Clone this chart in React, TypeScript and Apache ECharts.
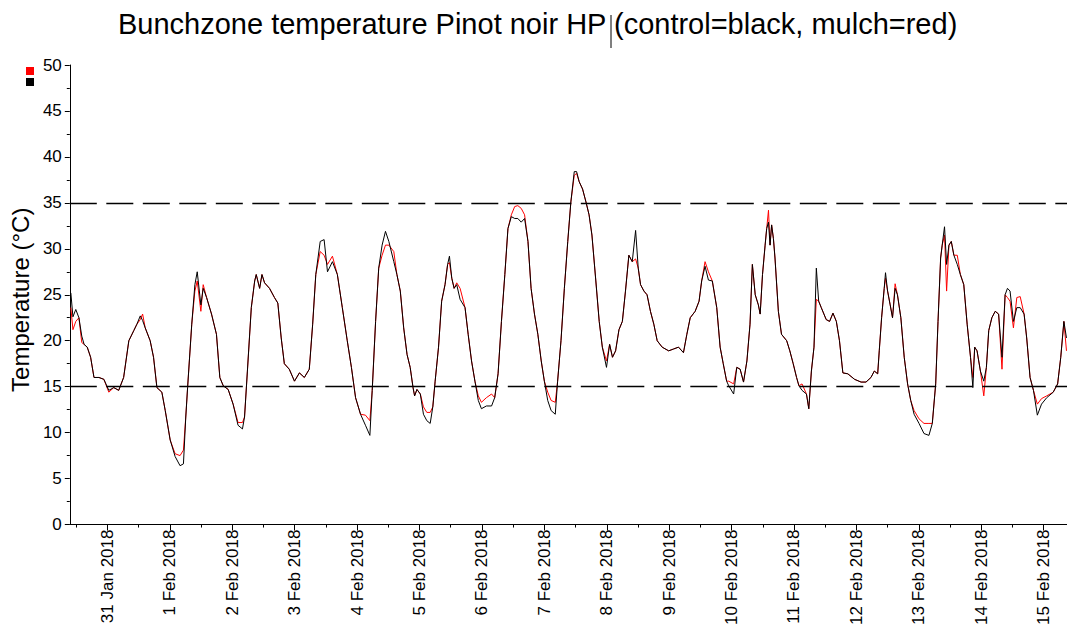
import React, { useEffect, useRef } from "react";
import * as echarts from "echarts";

// hours since 31 Jan 2018 00:00
const hours = [
  -14.1, -13.3, -12.2, -11.0, -9.9, -9.0, -7.8, -6.5, -5.2, -3.3, -1.4, 0.5, 2.4, 4.3, 6.2, 8.2, 10.1, 11.3, 12.6, 13.5,
  14.5, 16.4, 17.7, 19.0, 20.9, 22.2, 24.1, 26.0, 27.9, 29.2, 30.1, 30.8, 32.4, 33.6, 34.5, 35.9, 36.8, 38.1, 40.0, 41.9,
  43.2, 44.5, 46.4, 48.3, 50.2, 51.9, 52.7, 53.8, 55.3, 56.6, 57.2, 58.5, 59.4, 60.4, 62.3, 64.2, 65.5, 66.8, 68.0, 69.9,
  71.9, 73.8, 75.7, 77.6, 78.9, 80.1, 81.8, 83.3, 84.6, 86.5, 88.4, 90.3, 92.2, 93.8, 95.4, 97.3, 99.2, 100.9, 101.8, 103.1,
  104.3, 105.6, 106.9, 108.2, 110.1, 111.3, 112.6, 113.9, 115.2, 116.4, 117.5, 118.1, 119.0, 120.3, 121.5, 122.8, 124.1, 125.1, 126.0, 127.3,
  128.5, 129.8, 130.8, 131.5, 132.4, 133.3, 134.3, 135.6, 137.5, 138.7, 140.0, 141.3, 142.6, 143.8, 145.7, 147.7, 148.9, 150.2, 151.5, 152.8,
  154.0, 155.3, 156.6, 157.8, 159.1, 160.4, 161.7, 162.9, 164.2, 165.5, 166.8, 168.0, 169.3, 170.6, 172.2, 173.1, 174.4, 175.7, 177.0, 178.2,
  179.5, 180.4, 181.4, 182.7, 184.0, 185.2, 186.3, 187.8, 189.1, 190.3, 191.9, 193.1, 194.2, 195.4, 196.7, 198.0, 199.2, 200.5, 201.8, 203.1,
  204.1, 205.0, 206.3, 207.5, 208.8, 210.1, 211.4, 213.3, 215.8, 217.7, 219.6, 221.5, 222.8, 224.1, 226.0, 227.5, 228.5, 229.8, 231.1, 232.6,
  234.3, 235.6, 236.8, 238.1, 238.9, 240.8, 242.0, 243.3, 244.6, 245.9, 247.1, 248.0, 249.1, 250.3, 251.0, 251.9, 252.9, 253.5, 254.2, 254.8,
  255.4, 256.1, 256.7, 258.0, 259.2, 261.2, 262.4, 263.7, 265.0, 265.9, 267.1, 268.8, 269.7, 270.7, 271.7, 272.6, 273.5, 274.5, 276.4, 277.7,
  279.0, 280.3, 281.5, 282.8, 284.7, 287.3, 289.8, 291.7, 293.6, 294.9, 296.2, 296.8, 297.7, 298.7, 299.2, 300.0, 301.0, 301.9, 302.9, 303.8,
  305.1, 306.4, 307.7, 308.9, 310.2, 312.1, 314.0, 315.9, 317.2, 318.5, 319.4, 320.4, 321.0, 321.9, 322.7, 323.6, 324.5, 325.5, 326.8, 328.0,
  329.3, 330.6, 331.9, 332.8, 333.5, 334.4, 335.7, 337.0, 338.0, 338.9, 340.1, 341.4, 342.7, 344.0, 345.2, 346.1, 347.1, 348.4, 349.7, 351.0,
  352.5, 353.5, 354.8, 356.1, 357.6, 359.2, 361.2, 363.7, 365.4, 366.6, 367.8, 368.8,
];

const control = [
  25.2, 22.6, 23.4, 22.5, 20.5, 19.6, 19.3, 18.2, 16.0, 16.0, 15.8, 14.6, 14.9, 14.6, 16.0, 20.0, 21.1, 21.8, 22.7, 22.2,
  21.4, 20.0, 18.2, 14.9, 14.4, 12.4, 9.2, 7.4, 6.4, 6.6, 11.7, 14.9, 21.8, 26.1, 27.5, 23.9, 25.7, 24.7, 22.9, 20.7,
  16.0, 15.1, 14.7, 13.1, 10.8, 10.4, 11.7, 16.7, 23.6, 26.5, 27.2, 25.7, 27.2, 26.3, 25.7, 24.7, 24.1, 20.3, 17.5, 16.9,
  15.6, 16.5, 16.0, 16.9, 21.8, 27.2, 30.8, 31.0, 27.5, 28.6, 27.2, 23.6, 20.0, 17.1, 13.8, 12.0, 10.8, 9.7, 14.6, 22.1,
  27.9, 30.4, 31.9, 30.8, 28.6, 27.2, 25.4, 21.4, 18.5, 17.1, 14.9, 14.0, 14.7, 14.2, 12.0, 11.3, 11.0, 12.8, 15.6, 19.3,
  24.3, 26.1, 28.3, 29.2, 26.8, 25.7, 26.1, 24.5, 23.6, 20.7, 17.8, 15.6, 13.5, 12.6, 12.9, 12.9, 13.8, 16.4, 22.1, 27.2,
  32.2, 33.5, 33.3, 33.3, 32.9, 33.3, 30.8, 25.7, 22.9, 20.7, 17.8, 15.6, 13.5, 12.4, 12.0, 15.6, 20.0, 25.7, 30.8, 35.1,
  38.4, 38.4, 37.3, 36.5, 35.1, 33.7, 31.5, 26.5, 22.1, 19.3, 17.1, 19.6, 18.2, 18.9, 21.2, 22.1, 25.4, 29.3, 28.6, 32.0,
  27.9, 26.1, 25.4, 25.0, 23.2, 21.8, 20.0, 19.3, 18.9, 19.1, 19.3, 18.7, 20.7, 22.5, 23.2, 24.3, 26.5, 28.1, 26.6, 26.5,
  23.6, 19.3, 17.5, 15.6, 15.1, 14.2, 17.1, 16.9, 15.5, 17.8, 21.8, 28.3, 25.0, 23.9, 22.9, 27.2, 30.4, 32.2, 32.9, 30.4,
  32.6, 31.1, 29.0, 23.2, 20.7, 20.0, 18.9, 17.5, 16.0, 15.1, 14.6, 14.2, 12.6, 16.7, 19.3, 27.9, 24.3, 23.6, 22.3, 22.1,
  23.0, 22.1, 20.0, 16.5, 16.4, 15.8, 15.5, 15.5, 16.0, 16.7, 16.4, 18.9, 22.5, 25.7, 27.4, 25.4, 23.9, 22.5, 25.7, 25.0,
  22.5, 18.2, 15.3, 13.5, 12.0, 11.0, 9.9, 9.7, 11.0, 15.3, 22.1, 29.0, 30.4, 32.4, 28.3, 30.4, 30.8, 29.3, 28.3, 27.2,
  26.1, 21.8, 18.2, 14.9, 19.3, 18.9, 16.7, 15.6, 17.1, 21.1, 22.5, 23.2, 22.9, 18.2, 25.0, 25.7, 25.4, 22.1, 23.6, 23.6,
  22.9, 20.3, 16.0, 14.6, 11.9, 13.1, 13.8, 14.4, 15.3, 18.2, 22.1, 20.3,
];

const mulch = [
  23.6, 21.2, 22.1, 22.5, 19.8, 19.6, 19.3, 18.2, 16.0, 16.0, 15.8, 14.4, 14.9, 14.6, 16.0, 20.0, 21.1, 21.8, 22.3, 22.9,
  21.4, 20.0, 18.2, 14.9, 14.4, 12.4, 9.2, 7.7, 7.5, 8.1, 11.7, 14.9, 21.8, 25.4, 26.5, 23.2, 26.1, 24.7, 22.9, 20.7,
  16.0, 15.1, 14.7, 13.1, 11.1, 11.1, 11.7, 16.7, 23.6, 26.5, 27.2, 25.7, 27.2, 26.3, 25.7, 24.7, 24.1, 20.3, 17.5, 16.9,
  15.6, 16.5, 16.0, 16.9, 21.8, 27.2, 29.7, 29.3, 28.3, 29.2, 27.2, 23.6, 20.0, 17.1, 13.8, 12.0, 11.9, 11.3, 14.6, 22.1,
  27.9, 29.3, 30.4, 30.4, 29.7, 27.2, 25.4, 21.4, 18.5, 17.1, 14.9, 14.0, 14.7, 14.2, 12.8, 12.2, 12.2, 12.8, 15.6, 19.3,
  24.3, 26.1, 28.3, 28.5, 26.8, 25.7, 26.3, 25.7, 23.6, 20.7, 17.8, 15.6, 14.0, 13.3, 13.8, 14.2, 13.8, 16.4, 22.1, 27.2,
  32.2, 33.7, 34.6, 34.7, 34.4, 33.7, 30.8, 25.7, 22.9, 20.7, 17.8, 15.6, 14.4, 13.5, 13.3, 15.6, 20.0, 25.7, 30.8, 35.1,
  38.0, 38.2, 37.3, 36.5, 35.1, 33.7, 31.5, 26.5, 22.1, 19.3, 17.8, 19.6, 18.2, 18.9, 21.2, 22.1, 25.4, 29.3, 28.6, 28.9,
  27.9, 26.1, 25.4, 25.0, 23.2, 21.8, 20.0, 19.3, 18.9, 19.1, 19.3, 18.7, 20.7, 22.5, 23.2, 24.3, 26.5, 28.6, 27.5, 26.5,
  23.6, 19.3, 17.5, 15.6, 15.6, 15.3, 17.1, 16.9, 15.5, 17.8, 21.8, 28.3, 25.0, 23.9, 22.9, 27.2, 30.4, 32.2, 34.2, 30.4,
  32.6, 31.1, 29.0, 23.2, 20.7, 20.0, 18.9, 17.5, 16.0, 15.1, 15.3, 14.2, 12.6, 16.7, 19.3, 24.5, 24.3, 23.6, 22.3, 22.1,
  23.0, 22.1, 20.0, 16.5, 16.4, 15.8, 15.5, 15.5, 16.0, 16.7, 16.4, 18.9, 22.5, 25.7, 26.8, 25.4, 23.9, 22.5, 26.2, 25.0,
  22.5, 18.2, 15.3, 13.5, 12.4, 11.5, 11.0, 11.0, 11.0, 15.3, 22.1, 29.0, 30.4, 31.5, 25.4, 30.4, 30.8, 29.3, 29.3, 27.2,
  26.1, 21.8, 18.2, 16.0, 19.3, 18.9, 16.7, 14.0, 17.1, 21.1, 22.5, 23.2, 22.9, 16.9, 25.0, 24.7, 24.3, 21.4, 24.7, 24.8,
  22.9, 20.3, 16.0, 14.6, 13.1, 13.7, 14.0, 14.4, 15.3, 18.2, 22.1, 18.9,
];

const dayTicks = [0, 24, 48, 72, 96, 120, 144, 168, 192, 216, 240, 264, 288, 312, 336, 360];
const dayLabels = [
  "31 Jan 2018", "1 Feb 2018", "2 Feb 2018", "3 Feb 2018", "4 Feb 2018", "5 Feb 2018", "6 Feb 2018", "7 Feb 2018",
  "8 Feb 2018", "9 Feb 2018", "10 Feb 2018", "11 Feb 2018", "12 Feb 2018", "13 Feb 2018", "14 Feb 2018", "15 Feb 2018",
];
const halfDayTicks = [-12, 12, 36, 60, 84, 108, 132, 156, 180, 204, 228, 252, 276, 300, 324, 348];
const thresholds = [15, 35];

const FONT = "'Liberation Sans', Arial, sans-serif";

export default function App() {
  const ref = useRef<HTMLDivElement>(null);
  useEffect(() => {
    const chart = echarts.init(ref.current!, null, { renderer: "svg" });
    const ctrlData = hours.map((h, i) => [h, control[i]]);
    const mulchData = hours.map((h, i) => [h, mulch[i]]);
    chart.setOption({
      animation: false,
      backgroundColor: "#fff",
      textStyle: { fontFamily: FONT, color: "#000" },
      title: {
        text: "Bunchzone temperature Pinot noir HP (control=black, mulch=red)",
        left: 118,
        top: 9,
        padding: 0,
        textStyle: { fontFamily: FONT, fontSize: 29, fontWeight: "normal", color: "#000" },
      },
      legend: {
        data: ["mulch", "control"],
        orient: "vertical",
        left: 26,
        top: 67,
        padding: 0,
        itemWidth: 8,
        itemHeight: 8,
        itemGap: 3,
        icon: "rect",
        formatter: () => "",
        textStyle: { fontSize: 1 },
        selectedMode: false,
      },
      graphic: [
        { type: "line", shape: { x1: 611, y1: 15, x2: 611, y2: 48 }, style: { stroke: "#000", lineWidth: 1 } },
      ],
      grid: { left: 64, top: 65, right: 0, bottom: 100.5, containLabel: false },
      xAxis: [
        {
          type: "value",
          min: -14.5,
          max: 369,
          position: "bottom",
          splitLine: { show: false },
          axisLine: { show: true, onZero: false, lineStyle: { color: "#000", width: 1 } },
          axisTick: { show: true, length: 6, customValues: dayTicks, lineStyle: { color: "#000" } },
          axisLabel: {
            customValues: dayTicks,
            rotate: 90,
            margin: 5,
            fontSize: 17,
            fontFamily: FONT,
            color: "#000",
            formatter: (v: number) => {
              const i = dayTicks.indexOf(Math.round(v));
              return i >= 0 ? dayLabels[i] : "";
            },
          },
        },
        {
          type: "value",
          min: -14.5,
          max: 369,
          position: "bottom",
          offset: 0,
          splitLine: { show: false },
          axisLine: { show: false, onZero: false },
          axisTick: { show: true, length: 3, customValues: halfDayTicks, lineStyle: { color: "#000" } },
          axisLabel: { show: false },
        },
      ],
      yAxis: {
        type: "value",
        min: 0,
        max: 50,
        interval: 5,
        name: "Temperature (°C)",
        nameLocation: "middle",
        nameRotate: 90,
        nameGap: 30,
        nameTextStyle: { fontFamily: FONT, fontSize: 24, color: "#000", padding: [0, 10, 0, 0] },
        splitLine: { show: false },
        axisLine: { show: true, onZero: false, lineStyle: { color: "#000", width: 1 } },
        axisTick: { show: true, length: 5, lineStyle: { color: "#000" } },
        minorTick: { show: true, splitNumber: 2, length: 3, lineStyle: { color: "#000" } },
        axisLabel: { fontSize: 17, fontFamily: FONT, color: "#000", margin: 8 },
      },
      series: [
        {
          name: "mulch",
          type: "line",
          data: mulchData,
          showSymbol: false,
          symbol: "none",
          color: "#ff0000",
          lineStyle: { color: "#ff0000", width: 1 },
          xAxisIndex: 0,
        },
        {
          name: "control",
          type: "line",
          data: ctrlData,
          showSymbol: false,
          symbol: "none",
          color: "#000",
          lineStyle: { color: "#000", width: 1 },
          xAxisIndex: 0,
          markLine: {
            silent: true,
            symbol: "none",
            label: { show: false },
            lineStyle: { color: "#000", type: [27, 9.5], width: 1.3 },
            data: thresholds.map((t) => ({ yAxis: t })),
          },
        },
      ],
    });
    return () => chart.dispose();
  }, []);
  return (
    <div
      ref={ref}
      style={{ position: "fixed", left: 0, top: 0, width: 1067, height: 628, background: "#fff" }}
    />
  );
}
